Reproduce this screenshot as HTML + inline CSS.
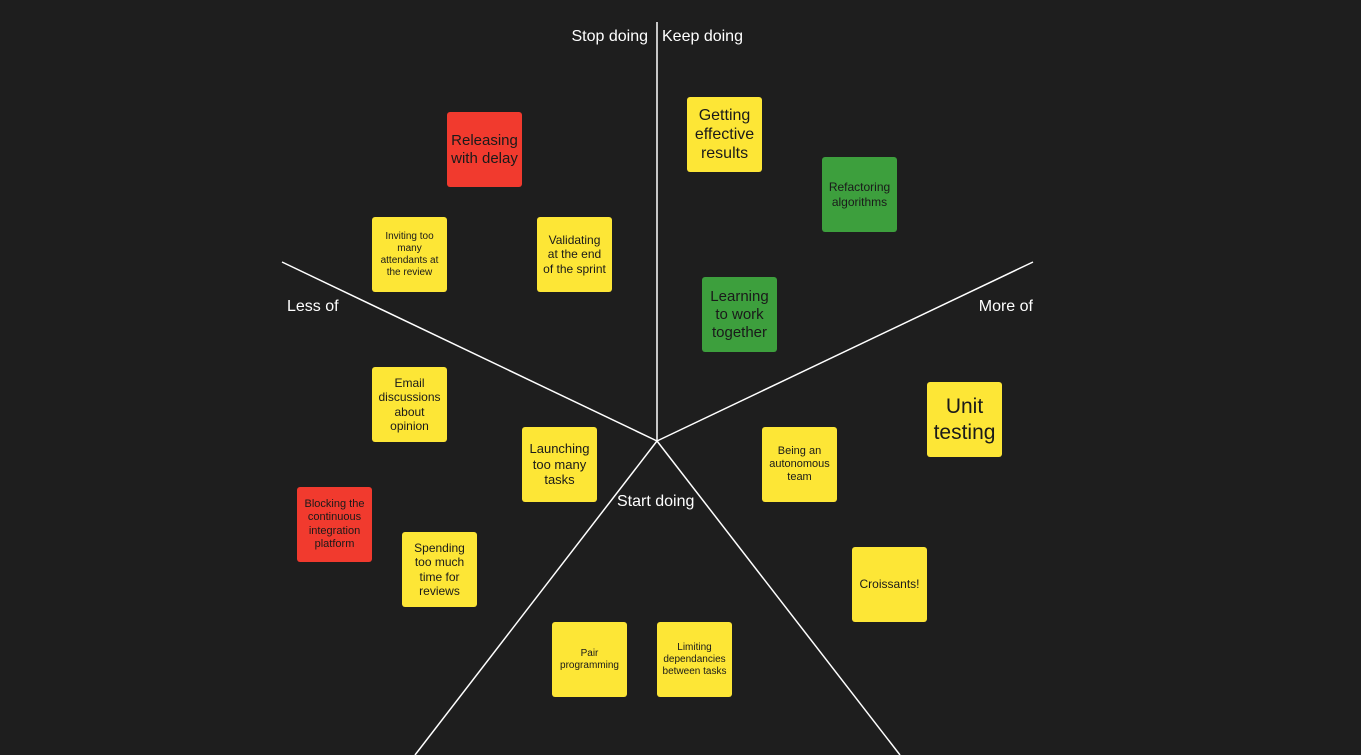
<!DOCTYPE html>
<html><head><meta charset="utf-8"><style>
html,body{margin:0;padding:0;background:#1e1e1e;width:1361px;height:755px;overflow:hidden;font-family:"Liberation Sans",sans-serif;}
svg{position:absolute;left:0;top:0}
.n{position:absolute;width:75px;height:75px;border-radius:3px;display:flex;align-items:center;justify-content:center;text-align:center;color:#1a1a1a;line-height:1.2;box-sizing:border-box;padding:2px}
.y{background:#fde636}.r{background:#f13a2e}.g{background:#3d9f3d}
.l{position:absolute;color:#fff;font-size:16px;white-space:nowrap}
</style></head><body>
<svg width="1361" height="755"><g stroke="#fff" stroke-width="1.5" fill="none">
<line x1="657" y1="441" x2="657" y2="22"/>
<line x1="657" y1="441" x2="282" y2="262"/>
<line x1="657" y1="441" x2="1033" y2="262"/>
<line x1="657" y1="441" x2="415" y2="755"/>
<line x1="657" y1="441" x2="900" y2="755"/>
</g></svg>
<div class="l" style="right:713px;top:28px">Stop doing</div>
<div class="l" style="left:662px;top:28px">Keep doing</div>
<div class="l" style="left:287px;top:298px">Less of</div>
<div class="l" style="right:328px;top:298px">More of</div>
<div class="l" style="left:617px;top:493px">Start doing</div>

<div class="n r" style="left:447px;top:112px;font-size:15px">Releasing with delay</div>
<div class="n y" style="left:687px;top:97px;font-size:16px">Getting effective results</div>
<div class="n g" style="left:822px;top:157px;font-size:12px">Refactoring algorithms</div>
<div class="n y" style="left:372px;top:217px;font-size:10px">Inviting too many attendants at the review</div>
<div class="n y" style="left:537px;top:217px;font-size:12px;padding:0 4px">Validating<br>at the end<br>of the sprint</div>
<div class="n g" style="left:702px;top:277px;font-size:15px">Learning to work together</div>
<div class="n y" style="left:927px;top:382px;font-size:21px">Unit testing</div>
<div class="n y" style="left:372px;top:367px;font-size:12px">Email discussions about opinion</div>
<div class="n y" style="left:522px;top:427px;font-size:13px">Launching too many tasks</div>
<div class="n y" style="left:762px;top:427px;font-size:11px">Being an autonomous team</div>
<div class="n r" style="left:297px;top:487px;font-size:11px">Blocking the continuous integration platform</div>
<div class="n y" style="left:402px;top:532px;font-size:12px">Spending<br>too much<br>time for<br>reviews</div>
<div class="n y" style="left:852px;top:547px;font-size:12px">Croissants!</div>
<div class="n y" style="left:552px;top:622px;font-size:10px">Pair programming</div>
<div class="n y" style="left:657px;top:622px;font-size:10px">Limiting dependancies between tasks</div>
</body></html>
